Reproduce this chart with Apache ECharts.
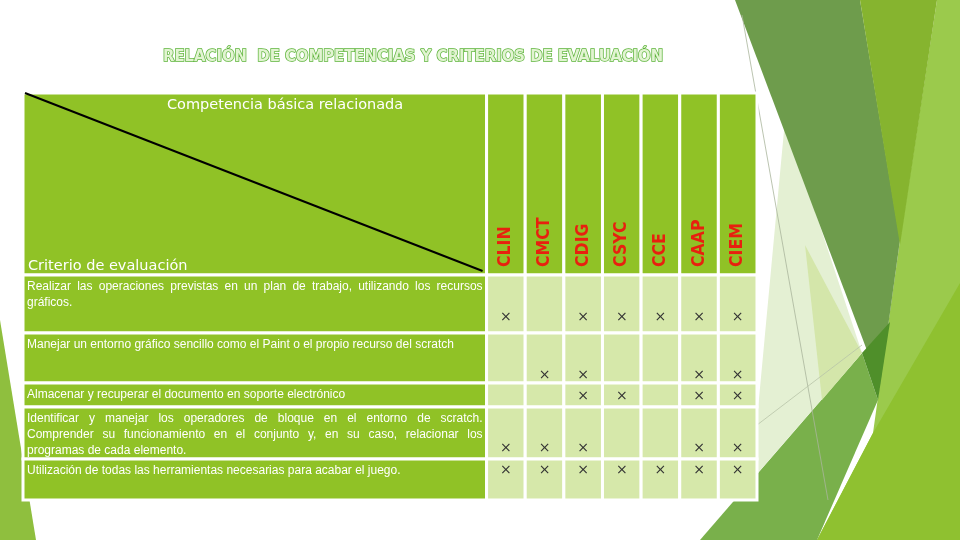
<!DOCTYPE html>
<html>
<head>
<meta charset="utf-8">
<script src="https://cdn.jsdelivr.net/npm/echarts@6/dist/echarts.min.js"></script>
<style>
html, body { margin: 0; padding: 0; background: #fff; }
#chart { width: 960px; height: 540px; }
</style>
</head>
<body>
<div id="chart"></div>
<script>
const title = "RELACIÓN  DE COMPETENCIAS Y CRITERIOS DE EVALUACIÓN";
const headerTop = "Competencia básica relacionada";
const headerLeft = "Criterio de evaluación";
const competencias = ["CLIN", "CMCT", "CDIG", "CSYC", "CCE", "CAAP", "CIEM"];
const criterios = [
  "Realizar las operaciones previstas en un plan de trabajo, utilizando los recursos\ngráficos.",
  "Manejar un entorno gráfico sencillo como el Paint o el propio recurso del scratch",
  "Almacenar y recuperar el documento en soporte electrónico",
  "Identificar y manejar los operadores de bloque en el entorno de scratch.\nComprender su funcionamiento en el conjunto y, en su caso, relacionar los\nprogramas de cada elemento.",
  "Utilización de todas las herramientas necesarias para acabar el juego.",
];
const marcas = [
  ["CLIN", "CDIG", "CSYC", "CCE", "CAAP", "CIEM"],
  ["CMCT", "CDIG", "CAAP", "CIEM"],
  ["CDIG", "CSYC", "CAAP", "CIEM"],
  ["CLIN", "CMCT", "CDIG", "CAAP", "CIEM"],
  ["CLIN", "CMCT", "CDIG", "CSYC", "CCE", "CAAP", "CIEM"],
];

// table layout (axis units)
const colEdges = [0, 12, 13, 14, 15, 16, 17, 18, 19];
const rowEdges = [0, 182, 240, 290, 314, 366, 407];
const markDy = [42, 42, 13, 41, 11];

const GREEN = "#90c226";
const PALE = "#d6e8aa";
const textFont = '"Liberation Sans", Arial, sans-serif';

const ctx = document.createElement("canvas").getContext("2d");
ctx.font = "12px " + textFont;

// background shapes of the slide
const deco = [
  { pts: [[880, 383], [900, 240], [937, 0], [960, 0], [960, 540], [817, 540], [873, 433]], fill: "#9bca4c" },
  { pts: [[817, 540], [873, 433], [960, 283], [960, 540]], fill: "#8fc130" },
  { pts: [[700, 540], [862, 353], [878, 400], [817, 540]], fill: "#79b04b" },
  { pts: [[785, 120], [862, 353], [757, 474], [757, 420]], fill: "#e4f0d3" },
  { pts: [[805, 245], [862, 353], [822, 400]], fill: "#d4e6aa" },
  { pts: [[735, 0], [860, 0], [900, 240], [880, 385]], fill: "#6e9c4c" },
  { pts: [[860, 0], [937, 0], [900, 245]], fill: "#86b42f" },
  { pts: [[862, 353], [890, 322], [878, 400]], fill: "#4f8f2a" },
  { pts: [[0, 320], [36, 540], [0, 540]], fill: "#8fbf3e" },
];

const cells = [];
for (let r = 0; r < rowEdges.length - 1; r++) {
  for (let c = 0; c < colEdges.length - 1; c++) {
    cells.push([c, r]);
  }
}

function lineWords(line, x, y, width, justify) {
  const style = { fill: "#fff", fontSize: 12, fontFamily: textFont, verticalAlign: "middle" };
  if (!justify) {
    return [{ type: "text", style: Object.assign({ x, y, text: line }, style) }];
  }
  const words = line.split(" ");
  const widths = words.map((w) => ctx.measureText(w).width);
  const total = widths.reduce((a, b) => a + b, 0);
  const gap = (width - total) / (words.length - 1);
  let cx = x;
  return words.map((w, i) => {
    const el = { type: "text", style: Object.assign({ x: cx, y, text: w }, style) };
    cx += widths[i] + gap;
    return el;
  });
}

function renderCell(params, api) {
  const c = api.value(0);
  const r = api.value(1);
  const p0 = api.coord([colEdges[c], rowEdges[r]]);
  const p1 = api.coord([colEdges[c + 1], rowEdges[r + 1]]);
  const w = p1[0] - p0[0];
  const h = p1[1] - p0[1];
  const children = [
    {
      type: "rect",
      shape: { x: p0[0], y: p0[1], width: w, height: h },
      style: { fill: r === 0 || c === 0 ? GREEN : PALE, stroke: "#fff", lineWidth: 3 },
    },
  ];
  if (r === 0 && c === 0) {
    children.push({
      type: "line",
      shape: { x1: p0[0] + 2, y1: p0[1], x2: p1[0] - 4, y2: p1[1] - 4 },
      style: { stroke: "#000", lineWidth: 2 },
    });
    children.push({
      type: "text",
      style: { x: p0[0] + 144, y: p0[1] + 12, text: headerTop, fill: "#fff", fontSize: 14.5, fontFamily: "DejaVu Sans", verticalAlign: "middle" },
    });
    children.push({
      type: "text",
      style: { x: p0[0] + 5, y: p1[1] - 9, text: headerLeft, fill: "#fff", fontSize: 14.5, fontFamily: "DejaVu Sans", verticalAlign: "middle" },
    });
  } else if (r === 0) {
    children.push({
      type: "text",
      x: (p0[0] + p1[0]) / 2,
      y: p1[1] - 8,
      rotation: Math.PI / 2,
      style: { x: 0, y: 0, text: competencias[c - 1], fill: "#e8200f", fontSize: 17.5, fontWeight: "bold", fontFamily: '"DejaVu Sans Condensed", "DejaVu Sans"', align: "left", verticalAlign: "middle" },
    });
  } else if (c === 0) {
    const lines = criterios[r - 1].split("\n");
    lines.forEach((line, i) => {
      lineWords(line, p0[0] + 4, p0[1] + 12 + i * 16, w - 8, i < lines.length - 1).forEach((el) => children.push(el));
    });
  } else if (marcas[r - 1].indexOf(competencias[c - 1]) >= 0) {
    children.push({
      type: "text",
      style: { x: (p0[0] + p1[0]) / 2, y: p0[1] + markDy[r - 1], text: "×", fill: "#333", fontSize: 14, fontFamily: "DejaVu Sans", align: "center", verticalAlign: "middle" },
    });
  }
  return { type: "group", children };
}

const chart = echarts.init(document.getElementById("chart"));
chart.setOption({
  animation: false,
  title: {
    text: title,
    left: 158,
    top: 43,
    textStyle: {
      fontSize: 16.5,
      fontWeight: "bold",
      fontFamily: '"Liberation Sans Narrow", "DejaVu Sans Condensed", sans-serif',
      color: "#e2f4d2",
      textBorderColor: "#5db43a",
      textBorderWidth: 1.5,
    },
  },
  graphic: deco
    .map((d) => ({ type: "polygon", z: 0, silent: true, shape: { points: d.pts }, style: { fill: d.fill } }))
    .concat([
      { type: "line", z: 0, silent: true, shape: { x1: 742, y1: 15, x2: 828, y2: 500 }, style: { stroke: "#a9b59c", lineWidth: 0.8 } },
      { type: "line", z: 0, silent: true, shape: { x1: 757, y1: 425, x2: 862, y2: 345 }, style: { stroke: "#b8c4a8", lineWidth: 0.8 } },
    ]),
  grid: { left: 23, top: 93, width: 734, height: 407 },
  xAxis: { type: "value", min: 0, max: 19, show: false },
  yAxis: { type: "value", min: 0, max: 407, inverse: true, show: false },
  series: [
    {
      type: "custom",
      renderItem: renderCell,
      data: cells,
      z: 5,
      silent: true,
    },
  ],
});
</script>
</body>
</html>
